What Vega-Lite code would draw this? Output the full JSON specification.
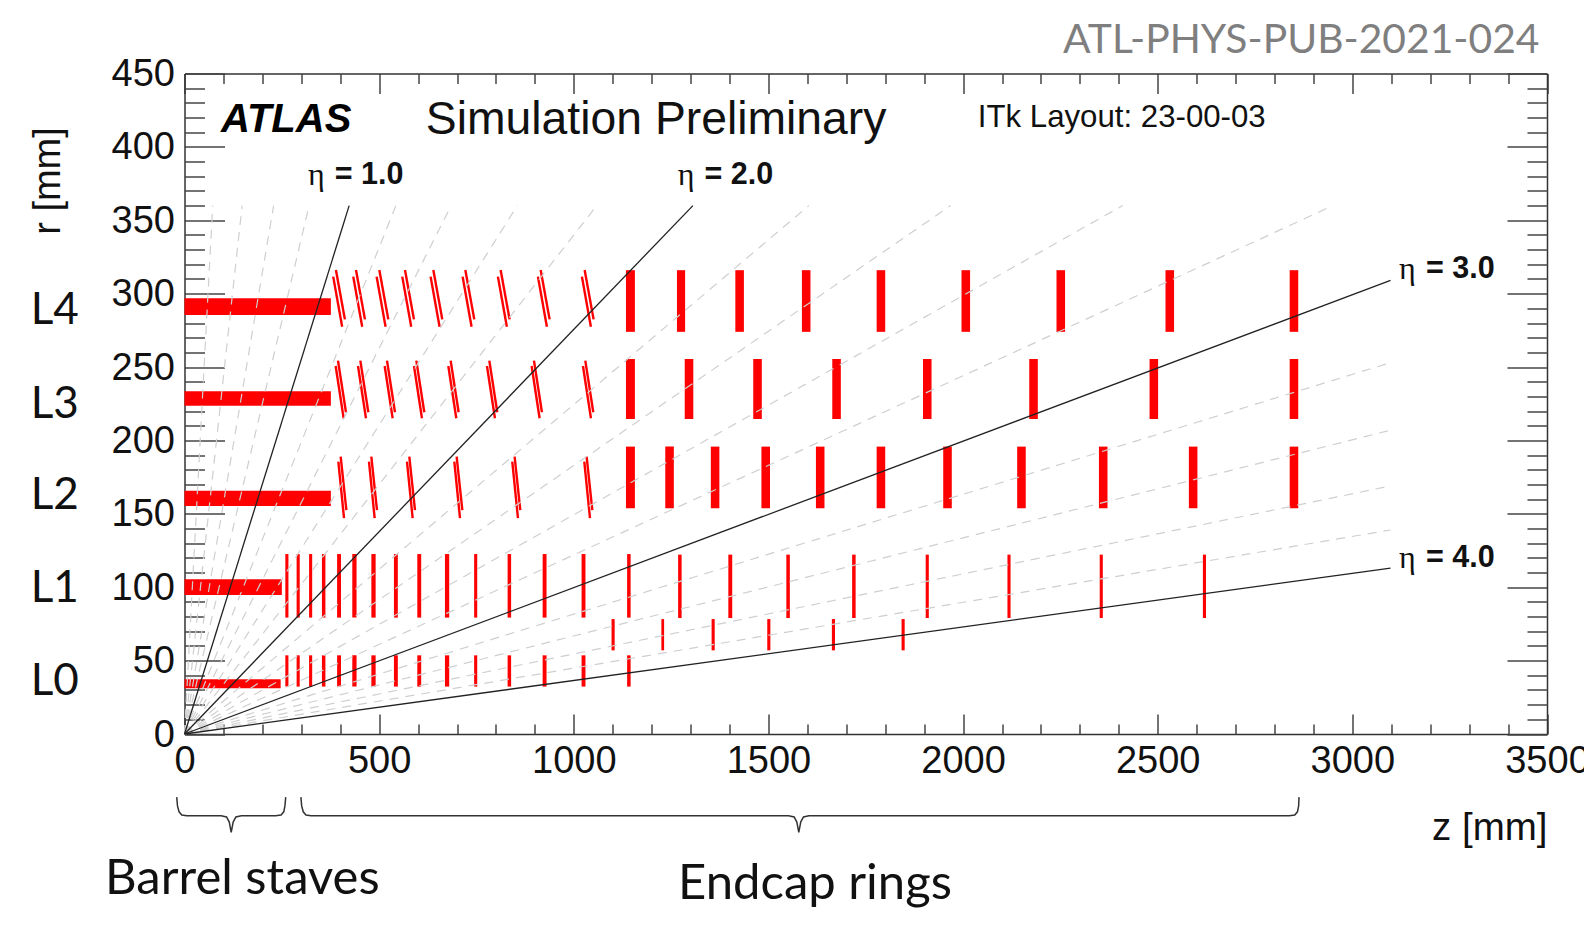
{
"$schema":"https://vega.github.io/schema/vega-lite/v6.json",
"width":1362.5,"height":660.5,
"autosize":{"type":"none"},
"padding":{"left":184.5,"top":73.5,"right":37,"bottom":191},
"background":"white",
"view":{"stroke":null},
"config":{"font":"Liberation Sans","axis":{"grid":false,"domainColor":"#333333","domainWidth":1.5,"tickColor":"#444444","tickWidth":1.5,"labelFont":"Liberation Sans","labelFontSize":38,"labelColor":"#111111","zindex":1,"labelOverlap":false,"labelFlush":false}},
"datasets":{
"barrel":[
{"z":0,"z2":376,"r":285.5,"r2":296.8},{"z":0,"z2":376,"r":223.7,"r2":233.5},{"z":0,"z2":376,"r":155.3,"r2":165.8},{"z":0,"z2":250,"r":94.7,"r2":105.4},{"z":0,"z2":247,"r":31.1,"r2":37.3}],
"thick":[
{"z":1134,"z2":1157,"r":274,"r2":316},{"z":1265,"z2":1286,"r":274,"r2":316},{"z":1415,"z2":1437,"r":274,"r2":316},{"z":1586,"z2":1608,"r":274,"r2":316},{"z":1778,"z2":1800,"r":274,"r2":316},{"z":1996,"z2":2018,"r":274,"r2":316},{"z":2240,"z2":2262,"r":274,"r2":316},{"z":2520,"z2":2542,"r":274,"r2":316},{"z":2839,"z2":2861,"r":274,"r2":316},
{"z":1134,"z2":1157,"r":214.6,"r2":255.5},{"z":1285,"z2":1307,"r":214.6,"r2":255.5},{"z":1461,"z2":1483,"r":214.6,"r2":255.5},{"z":1664,"z2":1686,"r":214.6,"r2":255.5},{"z":1897,"z2":1919,"r":214.6,"r2":255.5},{"z":2170,"z2":2192,"r":214.6,"r2":255.5},{"z":2479,"z2":2501,"r":214.6,"r2":255.5},{"z":2839,"z2":2861,"r":214.6,"r2":255.5},
{"z":1134,"z2":1157,"r":153.8,"r2":195.8},{"z":1235,"z2":1257,"r":153.8,"r2":195.8},{"z":1352,"z2":1374,"r":153.8,"r2":195.8},{"z":1482,"z2":1504,"r":153.8,"r2":195.8},{"z":1622,"z2":1644,"r":153.8,"r2":195.8},{"z":1778,"z2":1800,"r":153.8,"r2":195.8},{"z":1949,"z2":1971,"r":153.8,"r2":195.8},{"z":2139,"z2":2161,"r":153.8,"r2":195.8},{"z":2349,"z2":2371,"r":153.8,"r2":195.8},{"z":2580,"z2":2602,"r":153.8,"r2":195.8},{"z":2839,"z2":2861,"r":153.8,"r2":195.8}],
"thin":[
{"z":259,"z2":267,"r":79.3,"r2":122.6},{"z":288,"z2":296,"r":79.3,"r2":122.6},{"z":320,"z2":328,"r":79.3,"r2":122.6},{"z":353,"z2":362,"r":79.3,"r2":122.6},{"z":392,"z2":402,"r":79.3,"r2":122.6},{"z":431,"z2":442,"r":79.3,"r2":122.6},{"z":480,"z2":491,"r":79.3,"r2":122.6},{"z":538,"z2":548,"r":79.3,"r2":122.6},{"z":598,"z2":608,"r":79.3,"r2":122.6},{"z":669,"z2":680,"r":79.3,"r2":122.6},{"z":744,"z2":752,"r":79.3,"r2":122.6},{"z":830,"z2":839,"r":79.3,"r2":122.6},{"z":920,"z2":930,"r":79.3,"r2":122.6},{"z":1020,"z2":1030,"r":79.3,"r2":122.6},{"z":1137,"z2":1146,"r":79.3,"r2":122.6},
{"z":1268,"z2":1277,"r":79,"r2":122.2},{"z":1397,"z2":1407,"r":79,"r2":122.2},{"z":1546,"z2":1555,"r":79,"r2":122.2},{"z":1715,"z2":1724,"r":79,"r2":122.2},{"z":1904,"z2":1912,"r":79,"r2":122.2},{"z":2114,"z2":2122,"r":79,"r2":122.2},{"z":2351,"z2":2359,"r":79,"r2":122.2},{"z":2616,"z2":2624,"r":79,"r2":122.2},
{"z":259,"z2":267,"r":32.3,"r2":53.6},{"z":288,"z2":296,"r":32.3,"r2":53.6},{"z":320,"z2":328,"r":32.3,"r2":53.6},{"z":353,"z2":362,"r":32.3,"r2":53.6},{"z":392,"z2":402,"r":32.3,"r2":53.6},{"z":431,"z2":442,"r":32.3,"r2":53.6},{"z":480,"z2":491,"r":32.3,"r2":53.6},{"z":538,"z2":548,"r":32.3,"r2":53.6},{"z":598,"z2":608,"r":32.3,"r2":53.6},{"z":669,"z2":680,"r":32.3,"r2":53.6},{"z":744,"z2":752,"r":32.3,"r2":53.6},{"z":830,"z2":839,"r":32.3,"r2":53.6},{"z":920,"z2":930,"r":32.3,"r2":53.6},{"z":1020,"z2":1030,"r":32.3,"r2":53.6},{"z":1137,"z2":1146,"r":32.3,"r2":53.6},
{"z":1097,"z2":1105,"r":57,"r2":78.3},{"z":1225,"z2":1232,"r":57,"r2":78.3},{"z":1354,"z2":1362,"r":57,"r2":78.3},{"z":1497,"z2":1505,"r":57,"r2":78.3},{"z":1663,"z2":1671,"r":57,"r2":78.3},{"z":1842,"z2":1850,"r":57,"r2":78.3}],
"slanted":[
{"z":389,"r":316.1,"z2":412,"r2":282.5},{"z":382,"r":311.6,"z2":405,"r2":277.5},
{"z":440.5,"r":316.1,"z2":463.5,"r2":282.5},{"z":433.5,"r":311.6,"z2":456.5,"r2":277.5},
{"z":500.5,"r":316.1,"z2":523.5,"r2":282.5},{"z":493.5,"r":311.6,"z2":516.5,"r2":277.5},
{"z":566.4,"r":316.1,"z2":589.4,"r2":282.5},{"z":559.4,"r":311.6,"z2":582.4,"r2":277.5},
{"z":639.2,"r":316.1,"z2":662.2,"r2":282.5},{"z":632.2,"r":311.6,"z2":655.2,"r2":277.5},
{"z":721.4,"r":316.1,"z2":744.4,"r2":282.5},{"z":714.4,"r":311.6,"z2":737.4,"r2":277.5},
{"z":812.1,"r":316.1,"z2":835.1,"r2":282.5},{"z":805.1,"r":311.6,"z2":828.1,"r2":277.5},
{"z":914.9,"r":316.1,"z2":937.9,"r2":282.5},{"z":907.9,"r":311.6,"z2":930.9,"r2":277.5},
{"z":1027.9,"r":316.1,"z2":1050.9,"r2":282.5},{"z":1020.9,"r":311.6,"z2":1043.9,"r2":277.5},
{"z":394.3,"r":254.4,"z2":414.8,"r2":219.2},{"z":388.3,"r":250.7,"z2":408.8,"r2":215.1},
{"z":451.7,"r":254.4,"z2":472.2,"r2":219.2},{"z":445.7,"r":250.7,"z2":466.2,"r2":215.1},
{"z":520.2,"r":254.4,"z2":540.7,"r2":219.2},{"z":514.2,"r":250.7,"z2":534.7,"r2":215.1},
{"z":595.5,"r":254.4,"z2":616,"r2":219.2},{"z":589.5,"r":250.7,"z2":610,"r2":215.1},
{"z":683.7,"r":254.4,"z2":704.2,"r2":219.2},{"z":677.7,"r":250.7,"z2":698.2,"r2":215.1},
{"z":783,"r":254.4,"z2":803.5,"r2":219.2},{"z":777,"r":250.7,"z2":797.5,"r2":215.1},
{"z":897.7,"r":254.4,"z2":918.2,"r2":219.2},{"z":891.7,"r":250.7,"z2":912.2,"r2":215.1},
{"z":1029.6,"r":254.4,"z2":1050.1,"r2":219.2},{"z":1023.6,"r":250.7,"z2":1044.1,"r2":215.1},
{"z":401.2,"r":189,"z2":415.8,"r2":152.6},{"z":395.2,"r":185.6,"z2":409.8,"r2":147},
{"z":479.9,"r":189,"z2":494.5,"r2":152.6},{"z":473.9,"r":185.6,"z2":488.5,"r2":147},
{"z":577.5,"r":189,"z2":592.1,"r2":152.6},{"z":571.5,"r":185.6,"z2":586.1,"r2":147},
{"z":699.1,"r":189,"z2":713.7,"r2":152.6},{"z":693.1,"r":185.6,"z2":707.7,"r2":147},
{"z":848,"r":189,"z2":862.6,"r2":152.6},{"z":842,"r":185.6,"z2":856.6,"r2":147},
{"z":1033,"r":189,"z2":1047.6,"r2":152.6},{"z":1027,"r":185.6,"z2":1041.6,"r2":147}],
"etaGray":[
{"eta":0.2,"z":0,"r":0,"z2":72.5,"r2":360},{"eta":0.4,"z":0,"r":0,"z2":148,"r2":360},{"eta":0.6,"z":0,"r":0,"z2":229,"r2":360},{"eta":0.8,"z":0,"r":0,"z2":320,"r2":360},
{"eta":1.2,"z":0,"r":0,"z2":543,"r2":360},{"eta":1.4,"z":0,"r":0,"z2":685,"r2":360},{"eta":1.6,"z":0,"r":0,"z2":855,"r2":360},{"eta":1.8,"z":0,"r":0,"z2":1059,"r2":360},
{"eta":2.2,"z":0,"r":0,"z2":1604,"r2":360},{"eta":2.4,"z":0,"r":0,"z2":1968,"r2":360},{"eta":2.6,"z":0,"r":0,"z2":2410,"r2":360},{"eta":2.8,"z":0,"r":0,"z2":2950,"r2":360},
{"eta":3.2,"z":0,"r":0,"z2":3098,"r2":253},{"eta":3.4,"z":0,"r":0,"z2":3098,"r2":207},{"eta":3.6,"z":0,"r":0,"z2":3098,"r2":169},{"eta":3.8,"z":0,"r":0,"z2":3098,"r2":139}],
"etaBlack":[
{"eta":1,"z":0,"r":0,"z2":423,"r2":360},{"eta":2,"z":0,"r":0,"z2":1306,"r2":360},{"eta":3,"z":0,"r":0,"z2":3098,"r2":309},{"eta":4,"z":0,"r":0,"z2":3098,"r2":113}],
"brace":[
{"b":"barrel","i":1,"z":-20,"r":-43},{"b":"barrel","i":2,"z":-18,"r":-49},{"b":"barrel","i":3,"z":-14,"r":-53},{"b":"barrel","i":4,"z":-7,"r":-55.2},{"b":"barrel","i":5,"z":6,"r":-55.7},{"b":"barrel","i":6,"z":94,"r":-55.7},{"b":"barrel","i":7,"z":108,"r":-56.5},{"b":"barrel","i":8,"z":115,"r":-60},{"b":"barrel","i":9,"z":120,"r":-67},{"b":"barrel","i":10,"z":125,"r":-60},{"b":"barrel","i":11,"z":132,"r":-56.5},{"b":"barrel","i":12,"z":146,"r":-55.7},{"b":"barrel","i":13,"z":234,"r":-55.7},{"b":"barrel","i":14,"z":248,"r":-55.2},{"b":"barrel","i":15,"z":255,"r":-53},{"b":"barrel","i":16,"z":258,"r":-49},{"b":"barrel","i":17,"z":260,"r":-43},
{"b":"endcap","i":1,"z":299,"r":-43},{"b":"endcap","i":2,"z":301,"r":-49},{"b":"endcap","i":3,"z":305,"r":-53},{"b":"endcap","i":4,"z":312,"r":-55.2},{"b":"endcap","i":5,"z":325,"r":-55.7},{"b":"endcap","i":6,"z":1552,"r":-55.7},{"b":"endcap","i":7,"z":1566,"r":-56.5},{"b":"endcap","i":8,"z":1573,"r":-60},{"b":"endcap","i":9,"z":1578,"r":-67},{"b":"endcap","i":10,"z":1583,"r":-60},{"b":"endcap","i":11,"z":1590,"r":-56.5},{"b":"endcap","i":12,"z":1604,"r":-55.7},{"b":"endcap","i":13,"z":2838,"r":-55.7},{"b":"endcap","i":14,"z":2852,"r":-55.2},{"b":"endcap","i":15,"z":2859,"r":-53},{"b":"endcap","i":16,"z":2862,"r":-49},{"b":"endcap","i":17,"z":2863,"r":-43}],
"etaSym":[{"t":"η","z":317,"r":381},{"t":"η","z":1267,"r":381},{"t":"η","z":3120,"r":317},{"t":"η","z":3120,"r":120.2}],
"etaVal":[{"t":"= 1.0","z":386,"r":381},{"t":"= 2.0","z":1336,"r":381},{"t":"= 3.0","z":3189,"r":317},{"t":"= 4.0","z":3189,"r":120.2}],
"levels":[{"t":"L4","z":-395,"r":288.2},{"t":"L3","z":-395,"r":224.2},{"t":"L2","z":-395,"r":162.2},{"t":"L1","z":-395,"r":98.8},{"t":"L0","z":-395,"r":35.5}],
"parts":[{"t":"Barrel staves","z":-204,"r":-98.8},{"t":"Endcap rings","z":1268,"r":-102.2}]
},
"resolve":{"axis":{"x":"independent","y":"independent"}},
"layer":[
{"data":{"name":"barrel"},"mark":{"type":"rect","color":"#ff0000"},
"encoding":{
"x":{"field":"z","type":"quantitative","scale":{"domain":[0,3500],"nice":false,"zero":false},"axis":{"orient":"bottom","values":[0,500,1000,1500,2000,2500,3000,3500],"format":"d","tickSize":-20,"labelPadding":28,"title":"z [mm]","titleFontSize":38.5,"titleFont":"Liberation Sans","titleFontWeight":"normal","titleColor":"#111111","titleAnchor":"end","titleAlign":"right","titleBaseline":"middle","titleX":1362.5,"titleY":93}},
"x2":{"field":"z2"},
"y":{"field":"r","type":"quantitative","scale":{"domain":[0,450],"nice":false,"zero":false},"axis":{"orient":"left","values":[0,50,100,150,200,250,300,350,400,450],"format":"d","tickSize":-40,"labelPadding":50,"labelOffset":1,"title":"r [mm]","titleFontSize":38,"titleFont":"Liberation Sans","titleFontWeight":"normal","titleColor":"#111111","titleAngle":-90,"titleAlign":"center","titleBaseline":"middle","titleX":-136,"titleY":107}},
"y2":{"field":"r2"}}},
{"data":{"name":"thick"},"mark":{"type":"rect","color":"#ff0000"},
"encoding":{
"x":{"field":"z","type":"quantitative","scale":{"domain":[0,3500],"nice":false,"zero":false},"axis":{"orient":"bottom","values":[100,200,300,400,600,700,800,900,1100,1200,1300,1400,1600,1700,1800,1900,2100,2200,2300,2400,2600,2700,2800,2900,3100,3200,3300,3400],"tickSize":-10,"labels":false,"domain":false,"title":null}},
"x2":{"field":"z2"},
"y":{"field":"r","type":"quantitative","scale":{"domain":[0,450],"nice":false,"zero":false},"axis":{"orient":"left","values":[10,20,30,40,60,70,80,90,110,120,130,140,160,170,180,190,210,220,230,240,260,270,280,290,310,320,330,340,360,370,380,390,410,420,430,440],"tickSize":-20,"labels":false,"domain":false,"title":null}},
"y2":{"field":"r2"}}},
{"data":{"name":"thin"},"mark":{"type":"rect","color":"#ff0000"},
"encoding":{
"x":{"field":"z","type":"quantitative","scale":{"domain":[0,3500],"nice":false,"zero":false},"axis":{"orient":"top","values":[0,500,1000,1500,2000,2500,3000,3500],"tickSize":-20,"labels":false,"title":null}},
"x2":{"field":"z2"},
"y":{"field":"r","type":"quantitative","scale":{"domain":[0,450],"nice":false,"zero":false},"axis":{"orient":"right","values":[0,50,100,150,200,250,300,350,400,450],"tickSize":-40,"labels":false,"title":null}},
"y2":{"field":"r2"}}},
{"data":{"name":"slanted"},"mark":{"type":"rule","color":"#ff0000","strokeWidth":2.4},
"encoding":{
"x":{"field":"z","type":"quantitative","scale":{"domain":[0,3500],"nice":false,"zero":false},"axis":{"orient":"top","values":[100,200,300,400,600,700,800,900,1100,1200,1300,1400,1600,1700,1800,1900,2100,2200,2300,2400,2600,2700,2800,2900,3100,3200,3300,3400],"tickSize":-10,"labels":false,"domain":false,"title":null}},
"x2":{"field":"z2"},
"y":{"field":"r","type":"quantitative","scale":{"domain":[0,450],"nice":false,"zero":false},"axis":{"orient":"right","values":[10,20,30,40,60,70,80,90,110,120,130,140,160,170,180,190,210,220,230,240,260,270,280,290,310,320,330,340,360,370,380,390,410,420,430,440],"tickSize":-20,"labels":false,"domain":false,"title":null}},
"y2":{"field":"r2"}}},
{"data":{"name":"etaGray"},"mark":{"type":"rule","color":"#cfcfcf","strokeWidth":1.2,"strokeDash":[9,7]},
"encoding":{
"x":{"field":"z","type":"quantitative","scale":{"domain":[0,3500],"nice":false,"zero":false},"axis":null},
"x2":{"field":"z2"},
"y":{"field":"r","type":"quantitative","scale":{"domain":[0,450],"nice":false,"zero":false},"axis":null},
"y2":{"field":"r2"}}},
{"data":{"name":"etaBlack"},"mark":{"type":"rule","color":"#222222","strokeWidth":1.3},
"encoding":{
"x":{"field":"z","type":"quantitative","scale":{"domain":[0,3500],"nice":false,"zero":false},"axis":null},
"x2":{"field":"z2"},
"y":{"field":"r","type":"quantitative","scale":{"domain":[0,450],"nice":false,"zero":false},"axis":null},
"y2":{"field":"r2"}}},
{"data":{"name":"brace"},"mark":{"type":"line","color":"#333333","strokeWidth":1.5,"clip":false},
"encoding":{
"x":{"field":"z","type":"quantitative","scale":{"domain":[0,3500],"nice":false,"zero":false},"axis":null},
"y":{"field":"r","type":"quantitative","scale":{"domain":[0,450],"nice":false,"zero":false},"axis":null},
"detail":{"field":"b"},
"order":{"field":"i","type":"quantitative"}}},
{"data":{"name":"etaSym"},"mark":{"type":"text","font":"Liberation Serif","fontSize":32,"align":"left","baseline":"middle","color":"#111111"},
"encoding":{
"x":{"field":"z","type":"quantitative","scale":{"domain":[0,3500],"nice":false,"zero":false},"axis":null},
"y":{"field":"r","type":"quantitative","scale":{"domain":[0,450],"nice":false,"zero":false},"axis":null},
"text":{"field":"t"}}},
{"data":{"name":"etaVal"},"mark":{"type":"text","font":"Liberation Sans","fontWeight":"bold","fontSize":30.5,"align":"left","baseline":"middle","color":"#111111"},
"encoding":{
"x":{"field":"z","type":"quantitative","scale":{"domain":[0,3500],"nice":false,"zero":false},"axis":null},
"y":{"field":"r","type":"quantitative","scale":{"domain":[0,450],"nice":false,"zero":false},"axis":null},
"text":{"field":"t"}}},
{"data":{"name":"levels"},"mark":{"type":"text","font":"Lato","fontSize":44,"align":"left","baseline":"middle","color":"#111111"},
"encoding":{
"x":{"field":"z","type":"quantitative","scale":{"domain":[0,3500],"nice":false,"zero":false},"axis":null},
"y":{"field":"r","type":"quantitative","scale":{"domain":[0,450],"nice":false,"zero":false},"axis":null},
"text":{"field":"t"}}},
{"data":{"name":"parts"},"mark":{"type":"text","font":"Lato","fontSize":49,"align":"left","baseline":"middle","color":"#111111"},
"encoding":{
"x":{"field":"z","type":"quantitative","scale":{"domain":[0,3500],"nice":false,"zero":false},"axis":null},
"y":{"field":"r","type":"quantitative","scale":{"domain":[0,450],"nice":false,"zero":false},"axis":null},
"text":{"field":"t"}}},
{"data":{"values":[{"t":"ATLAS","z":93.8,"r":418.3}]},"mark":{"type":"text","font":"Liberation Sans","fontWeight":"bold","fontStyle":"italic","fontSize":40,"align":"left","baseline":"middle","color":"#000000"},
"encoding":{
"x":{"field":"z","type":"quantitative","scale":{"domain":[0,3500],"nice":false,"zero":false},"axis":null},
"y":{"field":"r","type":"quantitative","scale":{"domain":[0,450],"nice":false,"zero":false},"axis":null},
"text":{"field":"t"}}},
{"data":{"values":[{"t":"Simulation Preliminary","z":620,"r":418.3}]},"mark":{"type":"text","font":"Liberation Sans","fontSize":46.3,"align":"left","baseline":"middle","color":"#111111"},
"encoding":{
"x":{"field":"z","type":"quantitative","scale":{"domain":[0,3500],"nice":false,"zero":false},"axis":null},
"y":{"field":"r","type":"quantitative","scale":{"domain":[0,450],"nice":false,"zero":false},"axis":null},
"text":{"field":"t"}}},
{"data":{"values":[{"t":"ITk Layout: 23-00-03","z":2038,"r":420}]},"mark":{"type":"text","font":"Liberation Sans","fontSize":31.2,"align":"left","baseline":"middle","color":"#111111"},
"encoding":{
"x":{"field":"z","type":"quantitative","scale":{"domain":[0,3500],"nice":false,"zero":false},"axis":null},
"y":{"field":"r","type":"quantitative","scale":{"domain":[0,450],"nice":false,"zero":false},"axis":null},
"text":{"field":"t"}}},
{"data":{"values":[{"t":"ATL-PHYS-PUB-2021-024","z":2257,"r":471.9}]},"mark":{"type":"text","font":"Lato","fontSize":40.8,"align":"left","baseline":"middle","color":"#7f7f7f"},
"encoding":{
"x":{"field":"z","type":"quantitative","scale":{"domain":[0,3500],"nice":false,"zero":false},"axis":null},
"y":{"field":"r","type":"quantitative","scale":{"domain":[0,450],"nice":false,"zero":false},"axis":null},
"text":{"field":"t"}}}
]
}
